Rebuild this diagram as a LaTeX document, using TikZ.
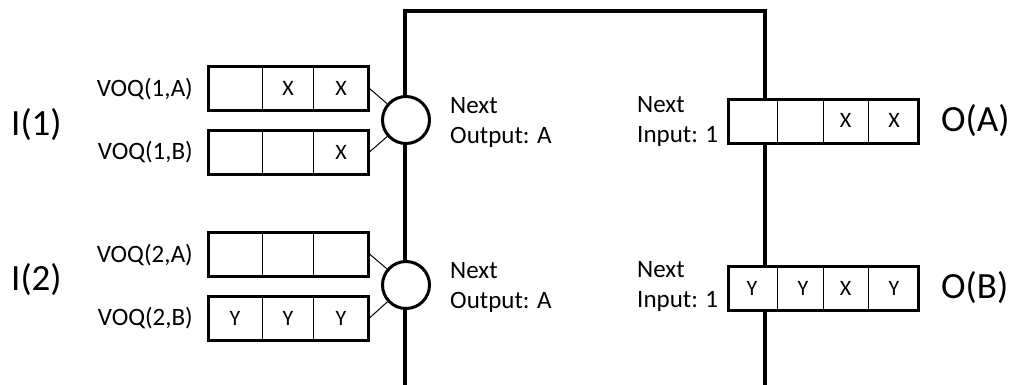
\documentclass[tikz,border=0pt]{standalone}
\usepackage{fontspec}
\setmainfont{Carlito}
\begin{document}
\begin{tikzpicture}[x=1pt,y=-1pt,
  queue/.style={draw, line width=3pt, fill=white, inner sep=0pt, minimum height=44pt},
  inq/.style={queue, minimum width=160pt},
  outq/.style={queue, minimum width=190pt},
  cell/.style={font=\fontsize{22}{26}\selectfont, inner sep=0pt},
  lbl/.style={font=\fontsize{25}{30}\selectfont, inner sep=0pt, align=left},
  big/.style={font=\fontsize{37}{44}\selectfont, inner sep=0pt},
  arb/.style={circle, draw, line width=3pt, fill=white, minimum size=47pt, inner sep=0pt},
  conn/.style={line width=1pt},
  divider/.style={line width=1pt},
  frame/.style={line width=4pt}]
\useasboundingbox (0,0) rectangle (1013,384);
% switch fabric frame (open at the bottom)
\coordinate (fbl) at (405,390);
\coordinate (ftl) at (405,11);
\coordinate (ftr) at (765,11);
\coordinate (fbr) at (765,390);
\draw[frame] (fbl) -- (ftl) -- (ftr) -- (fbr);
% arbiters
\node[arb] (c1) at (406,120) {};
\node[arb] (c2) at (406,285) {};
% input queues
\node[inq] (q1a) at (288,88.5) {};
\node[inq] (q1b) at (288,152) {};
\node[inq] (q2a) at (288,254) {};
\node[inq] (q2b) at (288,318) {};
\foreach \q/\ya/\yb in {q1a/66.5/110.5, q1b/130/174, q2a/232/276, q2b/296/340}{
  \draw[divider] (262,\ya) -- (262,\yb);
  \draw[divider] (313,\ya) -- (313,\yb);
}
% output queues
\node[outq] (oa) at (823.5,121) {};
\node[outq] (ob) at (823.5,288) {};
\foreach \ya/\yb in {99.5/142.5, 266.5/309.5}{
  \draw[divider] (777,\ya) -- (777,\yb);
  \draw[divider] (823,\ya) -- (823,\yb);
  \draw[divider] (868,\ya) -- (868,\yb);
}
% cell contents
\node[cell] (x1) at (288,88.5) {X};
\node[cell] (x2) at (341,88.5) {X};
\node[cell] (x3) at (341,152) {X};
\node[cell] (y1) at (235,318) {Y};
\node[cell] (y2) at (288,318) {Y};
\node[cell] (y3) at (341,318) {Y};
\node[cell] (x4) at (845.5,120) {X};
\node[cell] (x5) at (894,120) {X};
\node[cell] (y4) at (752,288) {Y};
\node[cell] (y5) at (803,288) {Y};
\node[cell] (x6) at (845.5,288) {X};
\node[cell] (y6) at (894,288) {Y};
% connectors
\draw[conn] (q1a.east) -- (c1);
\draw[conn] (q1b.east) -- (c1);
\draw[conn] (q2a.east) -- (c2);
\draw[conn] (q2b.east) -- (c2);
% labels
\node[lbl, anchor=east] (l1a) at (193,89) {VOQ(1,A)};
\node[lbl, anchor=east] (l1b) at (193,152) {VOQ(1,B)};
\node[lbl, anchor=east] (l2a) at (193,255) {VOQ(2,A)};
\node[lbl, anchor=east] (l2b) at (193,318) {VOQ(2,B)};
\node[big, anchor=west] (i1) at (11,125) {I(1)};
\node[big, anchor=west] (i2) at (11,280) {I(2)};
\node[big, anchor=west] (oA) at (941,121) {O(A)};
\node[big, anchor=west] (oB) at (941,288) {O(B)};
\node[lbl, anchor=west] (n1) at (450,122) {Next\\Output: A};
\node[lbl, anchor=west] (n2) at (450,287) {Next\\Output: A};
\node[lbl, anchor=west] (n3) at (637,121) {Next\\Input: 1};
\node[lbl, anchor=west] (n4) at (637,286) {Next\\Input: 1};
\end{tikzpicture}
\end{document}
